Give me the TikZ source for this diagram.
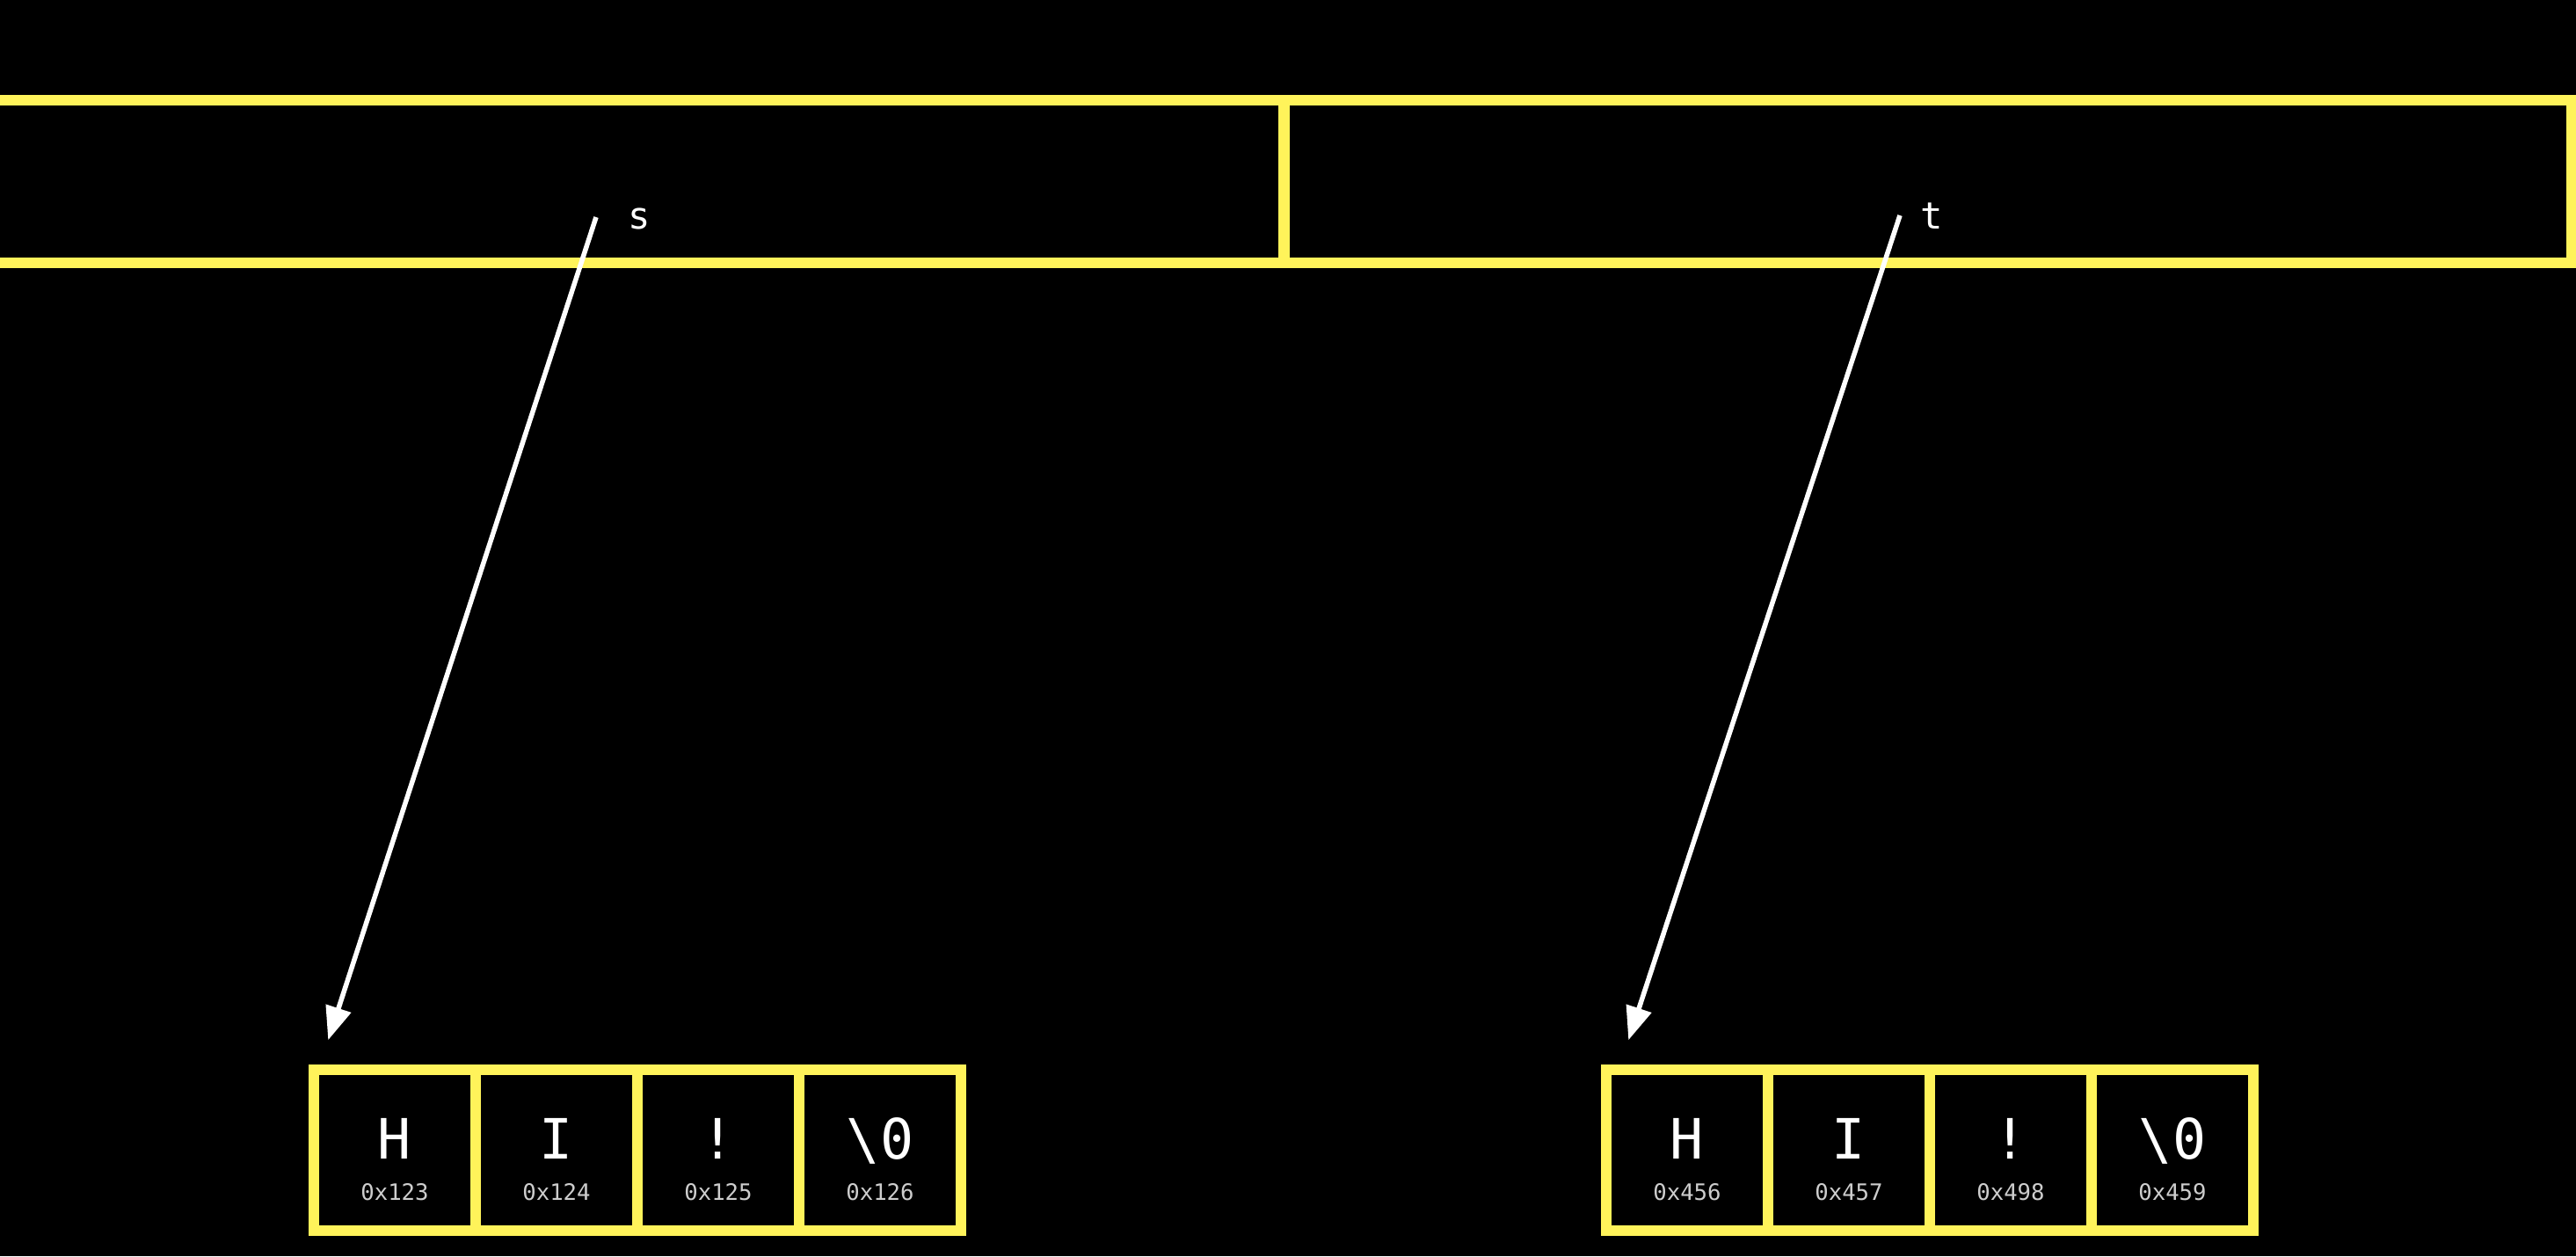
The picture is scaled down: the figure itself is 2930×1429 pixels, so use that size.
\documentclass[tikz,border=0pt]{standalone}
\usepackage{fontspec}
\setmonofont{DejaVu Sans Mono}
\usetikzlibrary{arrows.meta,positioning}
\definecolor{memyellow}{RGB}{255,243,90}
\definecolor{addrgray}{RGB}{205,205,205}

\begin{document}
\begin{tikzpicture}[x=0.1mm,y=-0.1mm,node distance=18.4mm,on grid,
  slot/.style={draw=memyellow,line width=1.15mm,minimum height=18.5mm,inner sep=0pt},
  cell/.style={draw=memyellow,line width=1.15mm,minimum width=18.4mm,minimum height=18.3mm,inner sep=0pt,
    text=white,font=\ttfamily\fontsize{18}{18}\selectfont,text height=4.7mm,text depth=2.7mm},
  addr/.style={text=addrgray,font=\ttfamily\fontsize{7.3}{7.3}\selectfont},
  varname/.style={text=white,font=\ttfamily\fontsize{12}{12}\selectfont,anchor=base west,inner sep=0pt},
  ptr/.style={draw=white,line width=0.55mm,-{Triangle[length=3.8mm,width=2.9mm]}}]
	     \useasboundingbox (0,0) rectangle (2930,1429);
	     \clip (0,0) rectangle (2930,1429);
	     \fill[black] (0,0) rectangle (2930,1429);

	     % stack
	     \node[slot, minimum width=148mm] (sslot) at (720,206.5) {};
	     \node[slot, minimum width=146.4mm] (tslot) at (2193,206.5) {};
	     \node[varname] (sname) at (714,260) {s};
	     \node[varname] (tname) at (2184,260) {t};
	     \coordinate (sptr) at (678,247);
	     \coordinate (tptr) at (2161,245);

	     % heap: s
	     \node[cell] (s0) at (449,1308.5) {H};
	     \node[cell] (s1) [right=of s0] {I};
	     \node[cell] (s2) [right=of s1] {!};
	     \node[cell] (s3) [right=of s2] {\textbackslash 0};
	     \node[addr] (sa0) [below=4.75mm of s0] {0x123};
	     \node[addr] (sa1) [below=4.75mm of s1] {0x124};
	     \node[addr] (sa2) [below=4.75mm of s2] {0x125};
	     \node[addr] (sa3) [below=4.75mm of s3] {0x126};

	     % heap: t
	     \node[cell] (t0) at (1919,1308.5) {H};
	     \node[cell] (t1) [right=of t0] {I};
	     \node[cell] (t2) [right=of t1] {!};
	     \node[cell] (t3) [right=of t2] {\textbackslash 0};
	     \node[addr] (ta0) [below=4.75mm of t0] {0x456};
	     \node[addr] (ta1) [below=4.75mm of t1] {0x457};
	     \node[addr] (ta2) [below=4.75mm of t2] {0x498};
	     \node[addr] (ta3) [below=4.75mm of t3] {0x459};

	     \draw[ptr] (sptr) -- ([xshift=2.2mm,yshift=2.8mm]s0.north west);
	     \draw[ptr] (tptr) -- ([xshift=3.1mm,yshift=2.8mm]t0.north west);
            \end{tikzpicture}
\end{document}
